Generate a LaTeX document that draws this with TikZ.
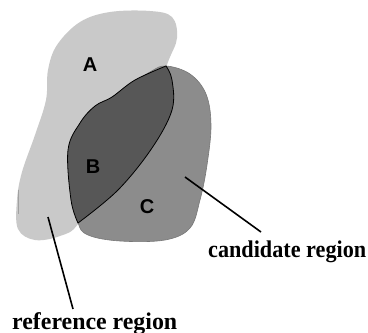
\documentclass[tikz,border=0pt]{standalone}
\usepackage{fontspec}
\setmainfont{Liberation Serif}
\setsansfont{Liberation Sans}
\begin{document}
\begin{tikzpicture}[x=1pt,y=-1pt,
  refarea/.style={fill=refgray},
  candarea/.style={fill=candgray, draw=candgray!85!black, line width=0.6pt},
  overlap/.style={fill=overgray, draw=black, line width=0.8pt},
  letter/.style={font=\sffamily\bfseries\fontsize{20}{20}\selectfont},
  caption/.style={font=\rmfamily\bfseries\fontsize{24}{26}\selectfont, inner sep=0pt, anchor=base west},
  pointer/.style={draw=black, line width=1.6pt}]
\definecolor{refgray}{gray}{0.79}
\definecolor{candgray}{gray}{0.55}
\definecolor{overgray}{gray}{0.34}
\useasboundingbox (0,0) rectangle (368,333);
\fill[white] (0,0) rectangle (368,333);

% reference region (light)
\path[refarea] plot[smooth cycle, tension=0.6] coordinates {
  (57,45) (80,22) (110,12) (150,11) (172,17) (177,38) (168,62)
  (150,110) (100,180) (78,224) (60,236) (35,240) (18,229)
  (17,200) (22,172) (35,135) (46,100) (48,70)};
% faint streak along the left edge
\draw[refgray!80!black, line width=0.8pt] (18.5,190) -- (18.5,214);

% candidate region (medium)
\path[candarea] plot[smooth cycle, tension=0.6] coordinates {
  (166,66) (190,74) (206,94) (211,125) (207,165) (200,200)
  (190,228) (165,240) (120,241) (88,235) (78,222)
  (76,190) (76,150) (90,118) (120,92) (150,72)};

% overlap of both regions (dark)
\path[overlap] plot[smooth, tension=0.6] coordinates {
  (78,223) (71,200) (68,150) (80,123) (95,106) (112,97) (135,80) (166,66)}
  -- plot[smooth, tension=0.6] coordinates {
  (166,66) (172,80) (172,110) (152,148) (118,190) (78,223)} -- cycle;

\node[letter] (la) at (90,65) {A};
\node[letter] (lb) at (93,167) {B};
\node[letter] (lc) at (147,207) {C};

% captions, squeezed to their widths
\node[caption] (cand) at (208,257) {\resizebox{158pt}{\height}{candidate region}};
\node[caption] (ref) at (12,329) {\resizebox{165pt}{\height}{reference region}};

\coordinate (candtip) at (185,177);
\coordinate (candend) at (261,232);
\coordinate (reftip) at (48,217);
\coordinate (refend) at (73,309);
\draw[pointer] (candtip) -- (candend);
\draw[pointer] (reftip) -- (refend);
\end{tikzpicture}
\end{document}
